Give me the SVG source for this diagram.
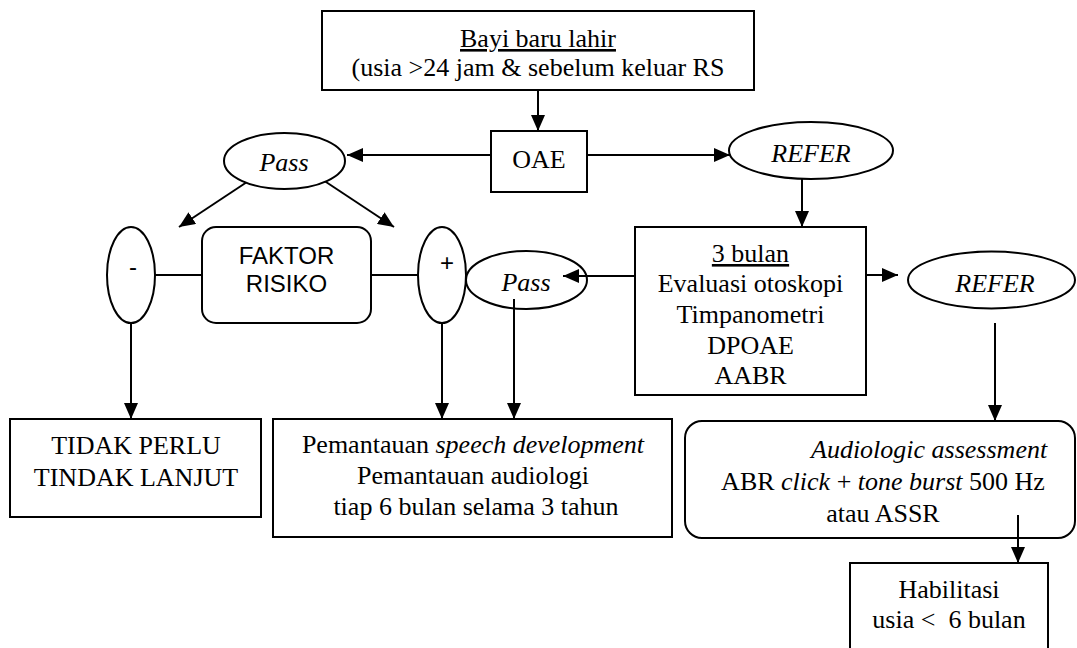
<svg xmlns="http://www.w3.org/2000/svg" width="1077" height="648" viewBox="0 0 1077 648">
  <style>
    .box { fill: #fff; stroke: #000; stroke-width: 2; }
    .oval { fill: #fff; stroke: #000; stroke-width: 2; }
    .t { font-family: "Liberation Serif", "Times New Roman", serif; font-size: 26px; fill: #000; text-anchor: middle; }
    .s { font-family: "Liberation Sans", Arial, sans-serif; font-size: 24px; fill: #000; text-anchor: middle; }
    .i { font-style: italic; }
    .u { text-decoration: underline; }
    .edge { fill: none; stroke: #000; stroke-width: 2; }
    .arrow { marker-end: url(#head); }
  </style>
  <defs>
    <marker id="head" viewBox="0 0 16 14" refX="16" refY="7" markerWidth="16" markerHeight="14" markerUnits="userSpaceOnUse" orient="auto">
      <path d="M0,0 L16,7 L0,14 Z" fill="#000"/>
    </marker>
  </defs>

  <rect width="1077" height="648" fill="#fff"/>

  <!-- connectors -->
  <g id="connectors">
    <line class="edge arrow" x1="538" y1="90" x2="538" y2="131"/>
    <line class="edge arrow" x1="491" y1="155" x2="347" y2="155"/>
    <line class="edge arrow" x1="587" y1="155" x2="730" y2="155"/>
    <line class="edge arrow" x1="250" y1="180" x2="179" y2="227"/>
    <line class="edge arrow" x1="323" y1="180" x2="394" y2="227"/>
    <line class="edge" x1="155" y1="275" x2="202" y2="275"/>
    <line class="edge" x1="371" y1="275" x2="418" y2="275"/>
    <line class="edge arrow" x1="131" y1="323" x2="131" y2="419"/>
    <line class="edge arrow" x1="442" y1="323" x2="442" y2="419"/>
    <line class="edge arrow" x1="802" y1="179" x2="802" y2="227"/>
    <line class="edge arrow" x1="850" y1="275" x2="898" y2="275"/>
    <line class="edge arrow" x1="995" y1="323" x2="995" y2="421"/>
  </g>

  <!-- Bayi baru lahir -->
  <g id="node-bayi">
    <rect class="box" x="322" y="11" width="432" height="79"/>
    <text class="t" x="538" y="47"><tspan class="u">Bayi baru lahir</tspan></text>
    <text class="t" x="538" y="76">(usia &gt;24 jam &amp; sebelum keluar RS</text>
  </g>

  <!-- OAE -->
  <g id="node-oae">
    <rect class="box" x="491" y="131" width="96" height="61"/>
    <text class="t" x="539" y="168">OAE</text>
  </g>

  <!-- Pass (after OAE) -->
  <g id="node-pass1">
    <ellipse class="oval" cx="284.5" cy="161" rx="60.5" ry="28"/>
    <text class="t i" x="284" y="171">Pass</text>
  </g>

  <!-- REFER (after OAE) -->
  <g id="node-refer1">
    <ellipse class="oval" cx="811" cy="150.5" rx="82" ry="28.5"/>
    <text class="t i" x="811" y="162">REFER</text>
  </g>

  <!-- negative risk factor -->
  <g id="node-minus">
    <ellipse class="oval" cx="131" cy="275" rx="24" ry="48"/>
    <text class="s" x="133" y="275">-</text>
  </g>

  <!-- FAKTOR RISIKO -->
  <g id="node-faktor">
    <rect class="box" x="202" y="227" width="169" height="96" rx="14" ry="14"/>
    <text class="s" x="286.5" y="264">FAKTOR</text>
    <text class="s" x="286.5" y="292">RISIKO</text>
  </g>

  <!-- positive risk factor -->
  <g id="node-plus">
    <ellipse class="oval" cx="442" cy="275" rx="24" ry="48"/>
    <text class="s" x="447" y="271">+</text>
  </g>

  <!-- Pass (after 3 months) -->
  <g id="node-pass2">
    <ellipse class="oval" cx="526.5" cy="280" rx="60.5" ry="29"/>
    <text class="t i" x="526" y="291">Pass</text>
  </g>

  <!-- 3 bulan -->
  <g id="node-3bulan">
    <rect class="box" x="635" y="227" width="231" height="168"/>
    <text class="t" x="750.5" y="262"><tspan class="u">3 bulan</tspan></text>
    <text class="t" x="750.5" y="292">Evaluasi otoskopi</text>
    <text class="t" x="750.5" y="323">Timpanometri</text>
    <text class="t" x="750.5" y="354">DPOAE</text>
    <text class="t" x="750.5" y="384">AABR</text>
  </g>

  <!-- REFER (after 3 months) -->
  <g id="node-refer2">
    <ellipse class="oval" cx="991.5" cy="280" rx="83.5" ry="28.5"/>
    <text class="t i" x="995" y="292">REFER</text>
  </g>

  <!-- lines that run into the nodes they leave -->
  <g id="connectors-over">
    <line class="edge arrow" x1="635" y1="276" x2="563" y2="276"/>
    <line class="edge arrow" x1="514" y1="299" x2="514" y2="419"/>
  </g>

  <!-- TIDAK PERLU TINDAK LANJUT -->
  <g id="node-tidak">
    <rect class="box" x="10" y="419" width="251" height="98"/>
    <text class="t" x="136" y="454">TIDAK PERLU</text>
    <text class="t" x="136" y="486">TINDAK LANJUT</text>
  </g>

  <!-- Pemantauan -->
  <g id="node-pemantauan">
    <rect class="box" x="273" y="419" width="399" height="118"/>
    <text class="t" x="473" y="453">Pemantauan <tspan class="i">speech development</tspan></text>
    <text class="t" x="473" y="484">Pemantauan audiologi</text>
    <text class="t" x="476" y="515">tiap 6 bulan selama 3 tahun</text>
  </g>

  <!-- Audiologic assessment -->
  <g id="node-audiologic">
    <rect class="box" x="685" y="421" width="390" height="117" rx="17" ry="17"/>
    <text class="t i" x="811" y="458" style="text-anchor:start">Audiologic assessment</text>
    <text class="t" x="883" y="490">ABR <tspan class="i">click</tspan> + <tspan class="i">tone burst</tspan> 500 Hz</text>
    <text class="t" x="883" y="522">atau ASSR</text>
  </g>

  <g id="connector-habilitasi">
    <line class="edge arrow" x1="1018" y1="515" x2="1018" y2="563"/>
  </g>

  <!-- Habilitasi -->
  <g id="node-habilitasi">
    <rect class="box" x="850" y="563" width="198" height="100"/>
    <text class="t" x="949" y="598">Habilitasi</text>
    <text class="t" x="949" y="628">usia &lt;&#160; 6 bulan</text>
  </g>
</svg>
